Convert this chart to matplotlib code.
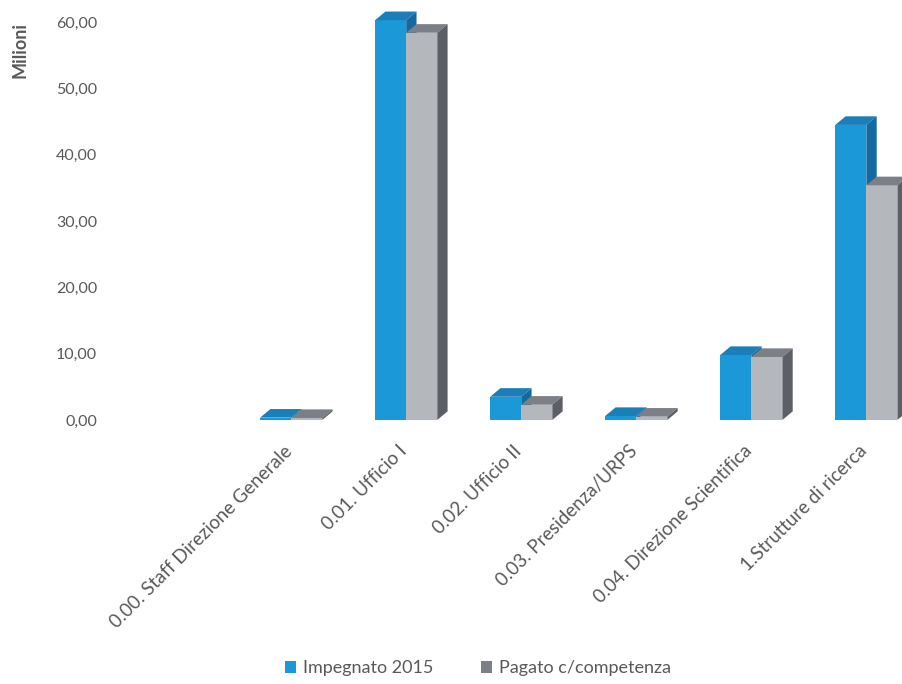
import matplotlib.pyplot as plt
import matplotlib.transforms as mtransforms
from matplotlib.patches import Polygon, Patch
from matplotlib.ticker import FuncFormatter

plt.rcParams['font.family'] = ['Lato', 'DejaVu Sans']

categories = [
    "0.00. Staff Direzione Generale",
    "0.01. Ufficio I",
    "0.02. Ufficio II",
    "0.03. Presidenza/URPS",
    "0.04. Direzione Scientifica",
    "1.Strutture di ricerca",
]
impegnato = [0.35, 60.3, 3.5, 0.6, 9.8, 44.5]
pagato = [0.3, 58.4, 2.3, 0.5, 9.5, 35.4]
series_labels = ["Impegnato 2015", "Pagato c/competenza"]
yticks = [0, 10, 20, 30, 40, 50, 60]

# colours: front face, top face, side face
blue = ("#1b98d8", "#1a7fb8", "#1469a0")
grey = ("#b4b7bc", "#7c8086", "#5c6066")

bar_w = 0.27
dx, dy = 0.09, 1.3   # fake depth of the 3d boxes, in data units


def box(ax, x0, h, cols):
    front, top, side = cols
    ax.bar(x0, h, width=bar_w, align='edge', color=front, edgecolor='none', zorder=2)
    ax.add_patch(Polygon([(x0, h), (x0 + dx, h + dy), (x0 + bar_w + dx, h + dy), (x0 + bar_w, h)],
                         closed=True, facecolor=top, edgecolor='none', zorder=2))
    ax.add_patch(Polygon([(x0 + bar_w, 0), (x0 + bar_w + dx, dy), (x0 + bar_w + dx, h + dy), (x0 + bar_w, h)],
                         closed=True, facecolor=side, edgecolor='none', zorder=2))


fig = plt.figure(figsize=(9.02, 6.84), dpi=100)
ax = fig.add_axes([0.12, 0.386, 0.88, 0.601])

for i in range(len(categories)):
    box(ax, i - bar_w, impegnato[i], blue)
    box(ax, i, pagato[i], grey)

ax.set_xlim(-1.59, 5.31)
ax.set_ylim(0, 62)
ax.set_yticks(yticks)
ax.yaxis.set_major_formatter(FuncFormatter(lambda v, p: f"{v:.2f}".replace('.', ',')))
ax.set_xticks(range(len(categories)))
ax.set_xticklabels(categories, rotation=45, ha='right', rotation_mode='anchor')
ax.tick_params(axis='both', length=0, labelcolor='#595959')
ax.tick_params(axis='x', pad=16, labelsize=13.5)
ax.tick_params(axis='y', pad=8, labelsize=11.5)

# nudge the slanted category labels a little to the left
shift = mtransforms.ScaledTranslation(-8 / 100, 0, fig.dpi_scale_trans)
for lab in ax.get_xticklabels():
    lab.set_transform(lab.get_transform() + shift)

for s in ax.spines.values():
    s.set_visible(False)

ax.set_ylabel("Milioni", fontsize=13, color='#595959', fontweight='bold')
ax.yaxis.set_label_coords(-0.1, 0.9)

handles = [Patch(facecolor=blue[0]), Patch(facecolor=grey[1])]
fig.legend(handles, series_labels, loc='center', bbox_to_anchor=(0.53, 0.023), ncol=2,
           frameon=False, fontsize=13, labelcolor='#595959', handlelength=0.6,
           handleheight=0.6, handletextpad=0.4, columnspacing=2.6)

fig.savefig("out.png", dpi=100, facecolor='white')
